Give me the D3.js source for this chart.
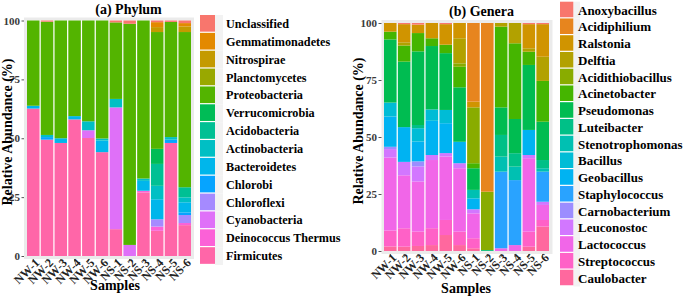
<!DOCTYPE html>
<html><head><meta charset="utf-8">
<script src="https://cdn.jsdelivr.net/npm/d3@7"></script>
<style>
body{margin:0;background:#fff}
svg{display:block}
text{font-family:"Liberation Serif","Times New Roman",serif;font-weight:bold}
</style>
</head><body>
<svg id="c" width="685" height="300"></svg>
<script>
// ---------- data ----------
const samples = ["NW-1","NW-2","NW-3","NW-4","NW-5","NW-6","NS-1","NS-2","NS-3","NS-4","NS-5","NS-6"];
const yTicks = [0, 25, 50, 75, 100];

// Phylum (legend order, top first)
const phyla = ["Unclassified","Gemmatimonadetes","Nitrospirae","Planctomycetes","Proteobacteria","Verrucomicrobia","Acidobacteria","Actinobacteria","Bacteroidetes","Chlorobi","Chloroflexi","Cyanobacteria","Deinococcus Thermus","Firmicutes"];
const unclassified     = [0, 0.5, 0, 0, 0, 0, 0.8, 1.4, 0, 0.7, 0.6, 1.1];
const gemmatimonadetes = [0, 0, 0, 0, 0, 0, 0, 0, 0, 2.1, 0, 1.4];
const nitrospirae      = [0, 0, 0, 0, 0, 0, 0, 0, 0, 2.1, 0, 2.4];
const planctomycetes   = [0, 0, 0, 0, 0, 0, 0, 0, 0, 0, 0, 0];
const proteobacteria   = [36.2, 48.1, 50.0, 40.6, 42.8, 50.1, 32.5, 93.9, 67.1, 49.6, 48.9, 65.9];
const verrucomicrobia  = [0, 0, 0, 0, 0, 0, 0, 0, 0, 6.4, 0, 0];
const acidobacteria    = [0, 0, 0, 0, 0, 0, 0, 0, 0, 9.3, 0, 4.3];
const actinobacteria   = [0, 0.9, 0, 0, 3.8, 0.9, 3.6, 0, 1.0, 5.7, 1.1, 2.1];
const bacteroidetes    = [1.2, 0, 2.0, 1.4, 0, 4.9, 0, 0, 4.2, 8.5, 0, 4.3];
const chlorobi         = [0, 1.1, 0, 0, 0, 0, 0, 0, 0, 0, 1.4, 1.1];
const chloroflexi      = [0, 0, 0, 0, 0, 0, 0, 0, 0, 3.1, 0, 3.4];
const cyanobacteria    = [0, 0, 0, 0, 3.3, 0, 51.7, 4.7, 0, 0, 0, 0];
const deinococcus      = [0, 0, 0, 0, 0, 0, 0, 0, 0.7, 1.8, 0, 0.9];
const firmicutes       = [62.6, 49.4, 48.0, 58.0, 50.1, 44.1, 11.4, 0, 27.0, 10.7, 48.0, 13.1];

// Genera (legend order, top first)
const genera = ["Anoxybacillus","Acidiphilium","Ralstonia","Delftia","Acidithiobacillus","Acinetobacter","Pseudomonas","Luteibacter","Stenotrophomonas","Bacillus","Geobacillus","Staphylococcus","Carnobacterium","Leuconostoc","Lactococcus","Streptococcus","Caulobacter"];
const anoxybacillus     = [0, 0.5, 0.7, 0, 0.5, 0, 0, 0, 0, 0, 0.5, 0.5];
const acidiphilium      = [0, 0, 0, 0, 0, 0, 34.5, 74, 0, 0, 0, 0];
const ralstonia         = [3.8, 8, 3.7, 6.7, 9, 6.7, 2.5, 0, 0, 0, 10.6, 14.3];
const delftia           = [0, 1.4, 0, 0, 0, 11, 0, 0, 1.6, 8.9, 1.5, 10.6];
const acidithiobacillus = [0, 0, 0, 0, 0, 1.5, 24.5, 25.6, 0, 0, 0, 0];
const acinetobacter     = [3.4, 7.1, 8, 3.4, 3.7, 9, 2.2, 0, 35.4, 33.2, 5.8, 17.9];
const pseudomonas       = [27.7, 28.8, 32.2, 27.8, 24.9, 23.9, 9.5, 0, 12.1, 15, 28.5, 16.8];
const luteibacter       = [0, 0, 1.4, 0, 0, 0, 0, 0.4, 9.5, 5.9, 0, 3.6];
const stenotrophomonas  = [0, 0, 0, 0, 0, 0, 3.7, 0, 6.6, 5.9, 0, 1.5];
const bacillus          = [6.1, 0, 5.8, 5, 5.8, 0, 0, 0, 0, 0, 0, 0];
const geobacillus       = [13.3, 15.3, 8.7, 15, 13.1, 9.4, 4.8, 0, 0, 0, 11, 0];
const staphylococcus    = [0, 0, 0, 0, 0, 0, 0, 0, 33.6, 28.5, 0, 13.2];
const carnobacterium    = [1, 0, 2.2, 0, 0, 0, 0, 0, 0, 0, 0, 0];
const leuconostoc       = [3.7, 5.9, 6.6, 2.2, 1.5, 2.2, 1.8, 0, 0, 0, 1.4, 1.4];
const lactococcus       = [32, 23.3, 21.9, 29.9, 27.8, 27.8, 10.9, 0, 1.2, 2.6, 32.2, 6.6];
const streptococcus     = [7, 8.1, 6.3, 7.4, 6.6, 5.9, 4.4, 0, 0, 0, 6.6, 2.9];
const caulobacter       = [2, 1.9, 2.2, 2.6, 7, 2.6, 1.2, 0, 0, 0, 1.9, 10.7];

const phylumSeries = [unclassified, gemmatimonadetes, nitrospirae, planctomycetes, proteobacteria, verrucomicrobia, acidobacteria, actinobacteria, bacteroidetes, chlorobi, chloroflexi, cyanobacteria, deinococcus, firmicutes];
const generaSeries = [anoxybacillus, acidiphilium, ralstonia, delftia, acidithiobacillus, acinetobacter, pseudomonas, luteibacter, stenotrophomonas, bacillus, geobacillus, staphylococcus, carnobacterium, leuconostoc, lactococcus, streptococcus, caulobacter];

// ---------- ggplot-like hue palette (polar LUV) ----------
function hclLuv(h, c, l) {
  const hr = h * Math.PI / 180;
  const U = c * Math.cos(hr), V = c * Math.sin(hr);
  const Xn = 95.047, Yn = 100, Zn = 108.883;
  const den = Xn + 15 * Yn + 3 * Zn;
  const un = 4 * Xn / den, vn = 9 * Yn / den;
  const Y = Yn * (l > 8 ? Math.pow((l + 16) / 116, 3) : l / 903.3);
  const u = U / (13 * l) + un, v = V / (13 * l) + vn;
  const X = 9 * Y * u / (4 * v);
  const Z = -X / 3 - 5 * Y + 3 * Y / v;
  const x = X / 100, y = Y / 100, z = Z / 100;
  let r = 3.240479 * x - 1.537150 * y - 0.498535 * z;
  let g = -0.969256 * x + 1.875992 * y + 0.041556 * z;
  let b = 0.055648 * x - 0.204043 * y + 1.057311 * z;
  const gam = t => { t = t <= 0.0031308 ? 12.92 * t : 1.055 * Math.pow(t, 1 / 2.4) - 0.055; return Math.round(Math.max(0, Math.min(1, t)) * 255); };
  return d3.rgb(gam(r), gam(g), gam(b)).formatHex();
}
function huePal(n) {
  const out = [];
  for (let i = 0; i < n; i++) out.push(hclLuv((15 + i * 360 / n) % 360, 100, 65));
  return out;
}

const svg = d3.select("#c");
svg.append("rect").attr("width", 685).attr("height", 300).attr("fill", "#fff");
const defs = svg.append("defs");
defs.append("clipPath").attr("id", "clipL").append("rect").attr("x", 0).attr("y", 0).attr("width", 341).attr("height", 300);

function drawPanel(g, cfg) {
  const colors = huePal(cfg.names.length);
  const rows = samples.map((s, j) => {
    const o = { sample: s };
    cfg.names.forEach((n, i) => o[n] = cfg.series[i][j]);
    return o;
  });
  const keys = cfg.names.slice().reverse();
  const stacked = d3.stack().keys(keys).offset(d3.stackOffsetExpand)(rows);
  const x = d3.scaleBand().domain(samples).range(cfg.xRange).paddingInner(0.09).paddingOuter(0);
  const y = d3.scaleLinear().domain([0, 1]).range(cfg.yRange);
  const color = d3.scaleOrdinal().domain(cfg.names).range(colors);

  // panel background
  g.append("rect").attr("x", cfg.panel[0]).attr("y", cfg.panel[1]).attr("width", cfg.panel[2]).attr("height", cfg.panel[3]).attr("fill", "#EBEBEB");
  g.append("rect").attr("x", cfg.xRange[0]).attr("y", y(1)).attr("width", cfg.xRange[1] - cfg.xRange[0]).attr("height", y(0) - y(1)).attr("fill", "#fff");

  g.append("g").selectAll("g").data(stacked).join("g")
    .attr("fill", d => color(d.key))
    .selectAll("rect").data(d => d).join("rect")
    .attr("x", d => x(d.data.sample))
    .attr("width", x.bandwidth())
    .attr("y", d => y(d[1]))
    .attr("height", d => Math.max(0, y(d[0]) - y(d[1])));

  // y axis
  const ya = g.append("g").attr("transform", `translate(${cfg.panel[0]},0)`)
    .call(d3.axisLeft(y).tickValues(yTicks.map(v => v / 100)).tickFormat(v => Math.round(v * 100)).tickSize(cfg.tick).tickPadding(1.5));
  ya.select(".domain").remove();
  ya.selectAll("line").attr("stroke", "#555");
  ya.selectAll("text").attr("fill", "#3a3a3a").style("font-size", "11px").style("font-family", '"Liberation Serif",serif').style("font-weight", "bold");

  // x axis
  const yb = cfg.panel[1] + cfg.panel[3];
  const xa = g.append("g").attr("transform", `translate(0,${yb})`)
    .call(d3.axisBottom(x).tickSize(cfg.tick).tickPadding(0));
  xa.select(".domain").remove();
  xa.selectAll("line").attr("stroke", "#555");
  xa.selectAll("text")
    .attr("fill", "#222").attr("text-anchor", "end")
    .attr("x", 0).attr("y", 0).attr("dy", "0.35em")
    .attr("transform", "translate(4,1.5) rotate(-45)")
    .style("font-size", "12px").style("font-family", '"Liberation Serif",serif').style("font-weight", "bold");

  // titles
  g.append("text").attr("x", cfg.titlePos[0]).attr("y", cfg.titlePos[1]).attr("text-anchor", "middle").style("font-size", "14px").attr("fill", "#000").text(cfg.title);
  g.append("text").attr("transform", `translate(${cfg.yTitlePos[0]},${cfg.yTitlePos[1]}) rotate(-90)`).attr("text-anchor", "middle").attr("dominant-baseline", "central").style("font-size", "14px").text("Relative Abundance (%)");
  g.append("text").attr("x", cfg.xTitlePos[0]).attr("y", cfg.xTitlePos[1]).attr("text-anchor", "middle").style("font-size", "14px").text("Samples");

  // legend
  const lg = g.append("g");
  cfg.names.forEach((n, i) => {
    const top = cfg.legTop + i * cfg.legStep;
    lg.append("rect").attr("x", cfg.legX + cfg.keyW).attr("y", top).attr("width", cfg.bgW - cfg.keyW).attr("height", cfg.legStep).attr("fill", "#F2F2F2");
    lg.append("rect").attr("x", cfg.legX).attr("y", top).attr("width", cfg.keyW).attr("height", cfg.legStep - 1.2).attr("fill", color(n));
    lg.append("text").attr("x", cfg.textX).attr("y", top + cfg.legStep / 2).attr("dominant-baseline", "central").style("font-size", cfg.legFont + "px").attr("fill", "#000").text(n);
  });
}

const gL = svg.append("g").attr("clip-path", "url(#clipL)");
drawPanel(gL, {
  names: phyla, series: phylumSeries, title: "(a) Phylum",
  xRange: [27, 191], yRange: [256, 20.5], panel: [24, 17.5, 170, 241.5], tick: 2.5,
  titlePos: [128.5, 14], yTitlePos: [7, 132], xTitlePos: [115, 290],
  legX: 200, keyW: 15, bgW: 23, legTop: 15, legStep: 17.86, textX: 226, legFont: 12.2
});
const gR = svg.append("g");
drawPanel(gR, {
  names: genera, series: generaSeries, title: "(b) Genera",
  xRange: [384, 549], yRange: [251, 23], panel: [381.5, 20, 171, 234], tick: 3,
  titlePos: [481.5, 16], yTitlePos: [358, 131], xTitlePos: [466, 293],
  legX: 560, keyW: 13.3, bgW: 20, legTop: 1.7, legStep: 16.75, textX: 578, legFont: 13
});
</script>
</body></html>
